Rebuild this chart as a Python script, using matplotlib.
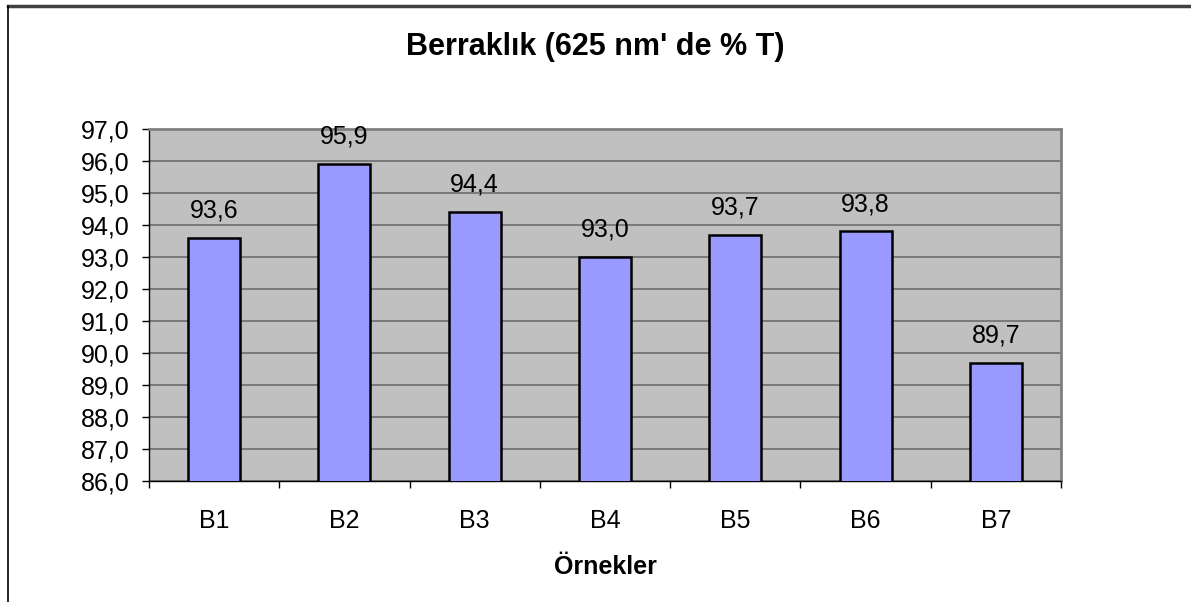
import matplotlib.pyplot as plt
from matplotlib.ticker import FuncFormatter, MultipleLocator
from matplotlib.lines import Line2D

plt.rcParams['font.family'] = ['Liberation Sans', 'DejaVu Sans']

samples = ['B1', 'B2', 'B3', 'B4', 'B5', 'B6', 'B7']
clarity = [93.6, 95.9, 94.4, 93.0, 93.7, 93.8, 89.7]

def comma(v, pos=None):
    return f"{v:.1f}".replace('.', ',')

fig = plt.figure(figsize=(11.91, 6.02), dpi=100)
ax = fig.add_axes([149/1191, 1 - 481/602, (1061-149)/1191, (481-129)/602])

x = range(len(samples))
bars = ax.bar(x, clarity, width=0.4, bottom=0, color='#9999FF',
              edgecolor='black', linewidth=1.8, zorder=3)
ax.set_ylim(86, 97)
ax.set_xlim(-0.5, len(samples) - 0.5)
ax.set_facecolor('#C0C0C0')
ax.yaxis.set_major_locator(MultipleLocator(1))
ax.yaxis.set_major_formatter(FuncFormatter(comma))
ax.grid(axis='y', color='#6E6E6E', linewidth=1.2, zorder=1)

# category ticks at the boundaries, labels centred
ax.set_xticks([i - 0.5 for i in range(len(samples) + 1)])
ax.set_xticklabels([])
ax.set_xticks(list(x), minor=True)
ax.set_xticklabels(samples, minor=True)
ax.tick_params(axis='x', which='minor', length=0, pad=20, labelsize=18)
ax.tick_params(axis='x', which='major', length=5, width=1, color='black')
ax.tick_params(axis='y', length=5, width=1, labelsize=18, pad=9)

for s in ['top', 'right']:
    ax.spines[s].set_color('#808080')
    ax.spines[s].set_linewidth(2)
for s in ['left', 'bottom']:
    ax.spines[s].set_color('black')
    ax.spines[s].set_linewidth(1)

for b, v in zip(bars, clarity):
    ax.annotate(comma(v), (b.get_x() + b.get_width() / 2, v),
                xytext=(0, 11), textcoords='offset points',
                ha='center', va='bottom', fontsize=18)

ax.set_xlabel('Örnekler', fontsize=18, fontweight='bold', labelpad=16)
fig.text(0.5, 1 - 47/602, "Berraklık (625 nm' de % T)", ha='center', va='center',
         fontsize=22, fontweight='bold')

# outer frame (only top and left visible)
fig.add_artist(Line2D([8/1191, 1], [1 - 6/602, 1 - 6/602], color='#404040', linewidth=2.5))
fig.add_artist(Line2D([8/1191, 8/1191], [0, 1 - 6/602], color='black', linewidth=1.2))

fig.savefig('out.png', dpi=100)
